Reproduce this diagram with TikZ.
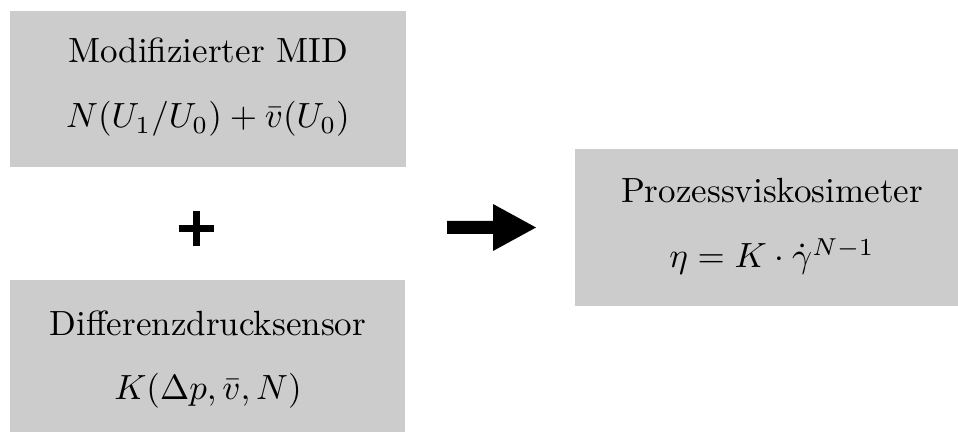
\documentclass[tikz,border=0pt]{standalone}
\usepackage{amsmath}
\begin{document}
\begin{tikzpicture}[x=0.285714pt,y=0.285714pt,
  panel/.style={fill=black!20,draw=none},
  caption/.style={anchor=base,inner sep=0pt,font=\fontsize{10}{12}\selectfont}]
\useasboundingbox (0,0) rectangle (958,432);

% grey panels
\fill[panel] (10,265) rectangle (406,421);
\fill[panel] (10,0) rectangle (405,152);
\fill[panel] (575,126) rectangle (958,283);

% texts of the upper left panel
\node[caption] (midtitle) at (208,369) {Modifizierter MID};
\node[caption] (midform) at (208,304) {$N(U_1/U_0) + \bar{v}(U_0)$};

% texts of the lower left panel
\node[caption] (dptitle) at (208,96) {Differenzdrucksensor};
\node[caption] (dpform) at (208,32) {$K(\Delta p, \bar{v}, N)$};

% texts of the right panel
\node[caption] (pvtitle) at (772,229) {Prozessviskosimeter};
\node[caption] (pvform) at (772,164) {$\eta = K\cdot\dot{\gamma}^{N-1}$};

% plus sign between the two left panels
\coordinate (plus) at (196,203);
\draw[line width=2pt] ([xshift=-5pt]plus) -- ([xshift=5pt]plus);
\draw[line width=2pt] ([yshift=-5pt]plus) -- ([yshift=5pt]plus);

% block arrow towards the right panel
\coordinate (arr) at (447,204.5);
\fill (arr) ++(0,-6.5) -- ++(46,0) -- ++(0,-17) -- (536,204.5)
  -- (493,228) -- (493,211) -- (447,211) -- cycle;
\end{tikzpicture}
\end{document}
